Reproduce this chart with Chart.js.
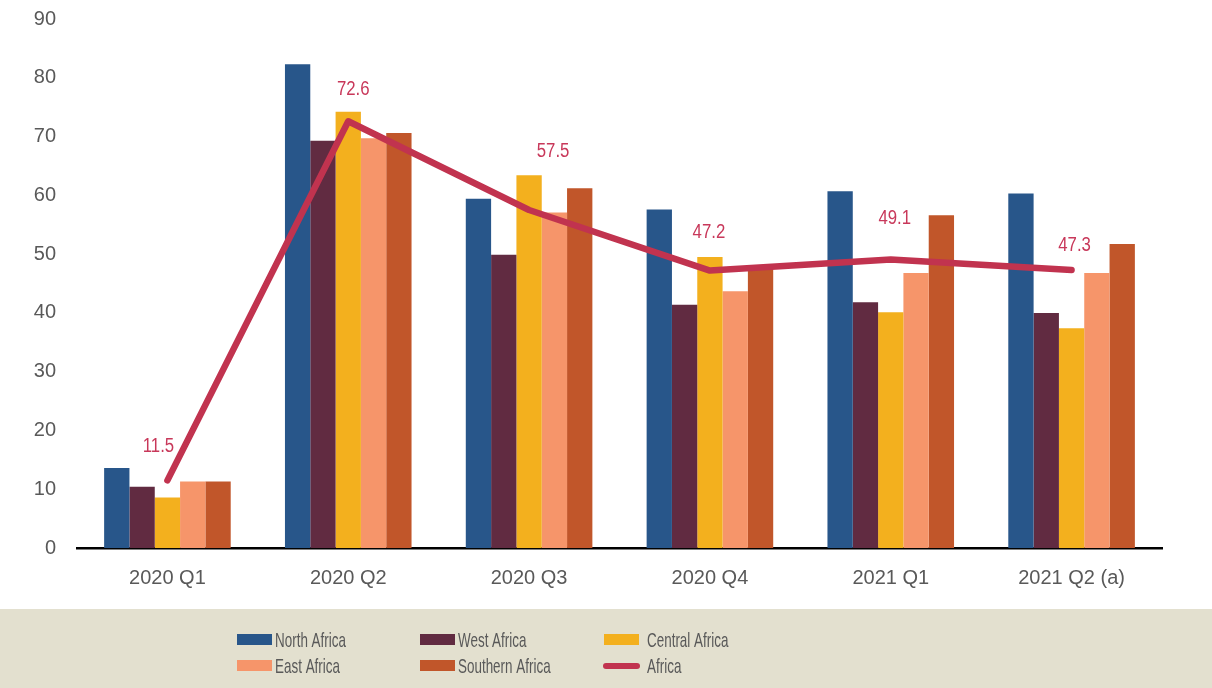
<!DOCTYPE html>
<html>
<head>
<meta charset="utf-8">
<script src="https://cdn.jsdelivr.net/npm/chart.js@4/dist/chart.umd.min.js"></script>
<style>
  body { margin: 0; background: #fff; }
  #wrap { width: 1212px; height: 688px; }
</style>
</head>
<body>
<div id="wrap"><canvas id="grafico" width="1212" height="688"></canvas></div>
<script>
const quarters = ['2020 Q1', '2020 Q2', '2020 Q3', '2020 Q4', '2021 Q1', '2021 Q2 (a)'];
const northAfrica = [13.6, 82.3, 59.4, 57.6, 60.7, 60.3];
const westAfrica = [10.4, 69.3, 49.9, 41.4, 41.8, 40.0];
const centralAfrica = [8.6, 74.2, 63.4, 49.5, 40.1, 37.4];
const eastAfrica = [11.3, 69.7, 57.1, 43.7, 46.8, 46.8];
const southernAfrica = [11.3, 70.6, 61.2, 48.1, 56.6, 51.7];
const africa = [11.5, 72.6, 57.5, 47.2, 49.1, 47.3];

// where the value labels of the Africa line sit, relative to each point
const labelDx = [-9, 5, 24, -1, 4, 3];
const labelDy = [34, 32, 59, 38, 41, 24];

const fonte = '"Liberation Sans", Arial, sans-serif';
const cinza = '#595959';

// texto estreito (a fonte do original e condensada)
function textoEstreito(c, txt, x, y, escala) {
    c.save();
    c.translate(x, y);
    c.scale(escala, 1);
    c.fillText(txt, 0, 0);
    c.restore();
}

// legend band + legend entries, drawn on the canvas
const legendaPlugin = {
    id: 'legenda',
    beforeDraw(chart) {
        const c = chart.ctx;
        c.save();
        c.fillStyle = '#E3E0CF';
        c.fillRect(0, 609, chart.width, chart.height - 609);
        c.restore();
    },
    afterDraw(chart) {
        const c = chart.ctx;
        const ordem = ['North Africa', 'West Africa', 'Central Africa', 'East Africa', 'Southern Africa', 'Africa'];
        const swatchX = [237, 420, 604];
        const textX = [275, 458, 647];
        const rowY = [640, 666];
        c.save();
        c.font = '21px ' + fonte;
        c.textBaseline = 'middle';
        ordem.forEach((nome, i) => {
            const ds = chart.data.datasets.find(d => d.label === nome);
            const col = i % 3, row = Math.floor(i / 3);
            const x = swatchX[col], y = rowY[row];
            if (ds.type === 'line') {
                c.strokeStyle = ds.borderColor;
                c.lineWidth = 6;
                c.lineCap = 'round';
                c.beginPath();
                c.moveTo(x + 2, y);
                c.lineTo(x + 33, y);
                c.stroke();
            } else {
                c.fillStyle = ds.backgroundColor;
                c.fillRect(x, y - 6, 35, 11);
            }
            c.fillStyle = cinza;
            textoEstreito(c, nome, textX[col], y + 1, 0.64);
        });
        c.restore();
    }
};

// value labels above the Africa line
const rotulosPlugin = {
    id: 'rotulos',
    afterDatasetsDraw(chart) {
        const idx = chart.data.datasets.findIndex(d => d.label === 'Africa');
        const meta = chart.getDatasetMeta(idx);
        const c = chart.ctx;
        c.save();
        c.font = '20px ' + fonte;
        c.fillStyle = '#C8385A';
        c.textAlign = 'center';
        c.textBaseline = 'middle';
        meta.data.forEach((pt, i) => {
            textoEstreito(c, africa[i].toFixed(1), pt.x + labelDx[i], pt.y - labelDy[i], 0.84);
        });
        c.restore();
    }
};

document.addEventListener('DOMContentLoaded', () => {
    const ctx = document.getElementById('grafico').getContext('2d');

    new Chart(ctx, {
        data: {
            labels: quarters,
            datasets: [
                { type: 'bar', label: 'North Africa', data: northAfrica, backgroundColor: '#28568A', order: 1 },
                { type: 'bar', label: 'West Africa', data: westAfrica, backgroundColor: '#612B41', order: 1 },
                { type: 'bar', label: 'Central Africa', data: centralAfrica, backgroundColor: '#F3B01E', order: 1 },
                { type: 'bar', label: 'East Africa', data: eastAfrica, backgroundColor: '#F6956A', order: 1 },
                { type: 'bar', label: 'Southern Africa', data: southernAfrica, backgroundColor: '#C1562A', order: 1 },
                {
                    type: 'line', label: 'Africa', data: africa,
                    borderColor: '#C1334F', borderWidth: 6.5,
                    borderCapStyle: 'round', borderJoinStyle: 'round',
                    pointRadius: 0, fill: false, tension: 0, order: 0
                }
            ]
        },
        options: {
            responsive: false,
            animation: false,
            datasets: {
                bar: { categoryPercentage: 0.7, barPercentage: 1.0 }
            },
            layout: { padding: { left: 0, right: 50, top: 19, bottom: 0 } },
            plugins: {
                legend: { display: false },
                tooltip: { enabled: false }
            },
            scales: {
                x: {
                    grid: { display: false, drawTicks: false },
                    border: { color: '#000', width: 2.5 },
                    ticks: { color: cinza, font: { family: fonte, size: 20 }, padding: 18 },
                    afterFit(scale) { scale.height = 140; }
                },
                y: {
                    min: 0,
                    max: 90,
                    grid: { display: false, drawTicks: false },
                    border: { display: false },
                    ticks: { stepSize: 10, color: cinza, font: { family: fonte, size: 20 }, padding: 21 },
                    afterFit(scale) {
                        scale.width = 77;
                        scale.paddingTop = 0;
                        scale.paddingBottom = 0;
                    }
                }
            }
        },
        plugins: [legendaPlugin, rotulosPlugin]
    });
});
</script>
</body>
</html>
